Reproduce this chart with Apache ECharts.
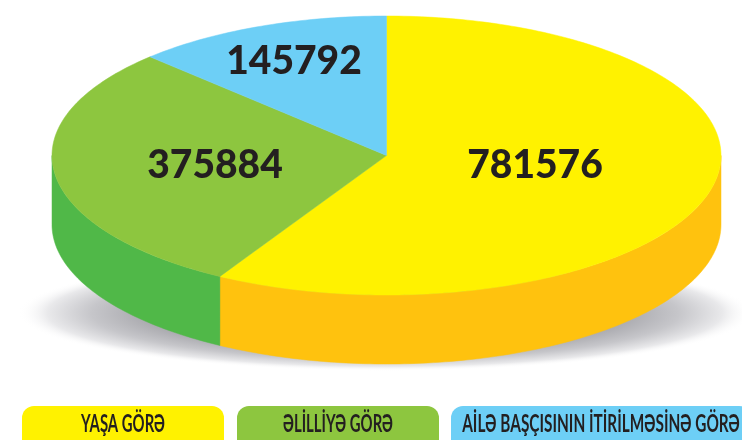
<!DOCTYPE html>
<html>
<head>
<meta charset="utf-8">
<style>
html,body{margin:0;padding:0;background:#fff;overflow:hidden}
#chart{width:742px;height:440px}
</style>
<script src="https://cdn.jsdelivr.net/npm/echarts@6/dist/echarts.min.js"></script>
</head>
<body>
<div id="chart"></div>
<script>
var categories = ['YAŞA GÖRƏ', 'ƏLİLLİYƏ GÖRƏ', 'AİLƏ BAŞÇISININ İTİRİLMƏSİNƏ GÖRƏ'];
var values = [781576, 375884, 145792];
// the drawing is not to scale, so the slices use the shares as drawn (percent of the disc)
var drawnShare = [58.3, 29.2, 12.5];

var topColors = ['#fff200', '#8dc63f', '#6dcff6'];
var sideColors = ['#ffc20e', '#50b848', '#6dcff6'];
var textColor = '#231f20';

var cx = 386.5, cy = 155.5, rx = 334.5, ry = 139.5, depth = 69;
var labelSpots = [[535, 165], [215, 165], [294, 61]];
var legendBoxes = [[22, 202, 0.62], [237, 202, 0.62], [451, 300, 0.64]];

function edge(deg, drop) {
    var a = deg * Math.PI / 180;
    return [cx + rx * Math.sin(a), cy - ry * Math.cos(a) + (drop || 0)];
}

function arc(from, to, drop) {
    var pts = [];
    var n = Math.max(2, Math.ceil(Math.abs(to - from)));
    for (var i = 0; i <= n; i++) {
        pts.push(edge(from + (to - from) * i / n, drop));
    }
    return pts;
}

function renderSlice(params, api) {
    var i = params.dataIndex;
    var start = 0;
    for (var k = 0; k < i; k++) {
        start += api.value(0, k) * 3.6;
    }
    var end = start + api.value(0) * 3.6;
    var children = [];

    // side wall, only the front half of the disc shows
    var from = Math.max(start, 90), to = Math.min(end, 270);
    if (to > from) {
        children.push({
            type: 'polygon',
            shape: { points: arc(from, to, 0).concat(arc(to, from, depth)) },
            style: { fill: sideColors[i], stroke: sideColors[i], lineWidth: 0.5 }
        });
    }
    children.push({
        type: 'polygon',
        shape: { points: [[cx, cy]].concat(arc(start, end, 0)) },
        style: { fill: topColors[i], stroke: topColors[i], lineWidth: 0.5 }
    });
    children.push({
        type: 'text',
        x: labelSpots[i][0],
        y: labelSpots[i][1],
        style: {
            text: String(values[i]),
            fill: textColor,
            font: '900 39px Lato',
            textAlign: 'center',
            textVerticalAlign: 'middle'
        }
    });
    return { type: 'group', children: children };
}

var graphics = [{
    type: 'circle',
    x: 385,
    y: 313,
    scaleX: 1,
    scaleY: 58 / 367,
    shape: { cx: 0, cy: 0, r: 367 },
    style: {
        fill: new echarts.graphic.RadialGradient(0.5, 0.5, 0.5, [
            { offset: 0, color: '#8c8c92' },
            { offset: 0.62, color: '#a3a3a8' },
            { offset: 0.8, color: '#c6c6ca' },
            { offset: 0.92, color: '#e9e9eb' },
            { offset: 1, color: 'rgba(255,255,255,0)' }
        ])
    },
    silent: true
}];

categories.forEach(function (name, i) {
    var box = legendBoxes[i];
    graphics.push({
        type: 'rect',
        shape: { x: box[0], y: 406, width: box[1], height: 50, r: 12 },
        style: { fill: topColors[i] }
    });
    graphics.push({
        type: 'text',
        x: i == 2 ? 601 : box[0] + box[1] / 2,
        y: 424,
        scaleX: box[2],
        style: {
            text: name,
            fill: textColor,
            font: 'bold 24px Lato',
            textAlign: 'center',
            textVerticalAlign: 'middle'
        }
    });
});

var chart = echarts.init(document.getElementById('chart'), null, { renderer: 'canvas' });
chart.setOption({
    animation: false,
    backgroundColor: '#fff',
    graphic: graphics,
    series: [{
        type: 'custom',
        coordinateSystem: 'none',
        renderItem: renderSlice,
        data: drawnShare.map(function (v) { return [v]; })
    }]
});
</script>
</body>
</html>
